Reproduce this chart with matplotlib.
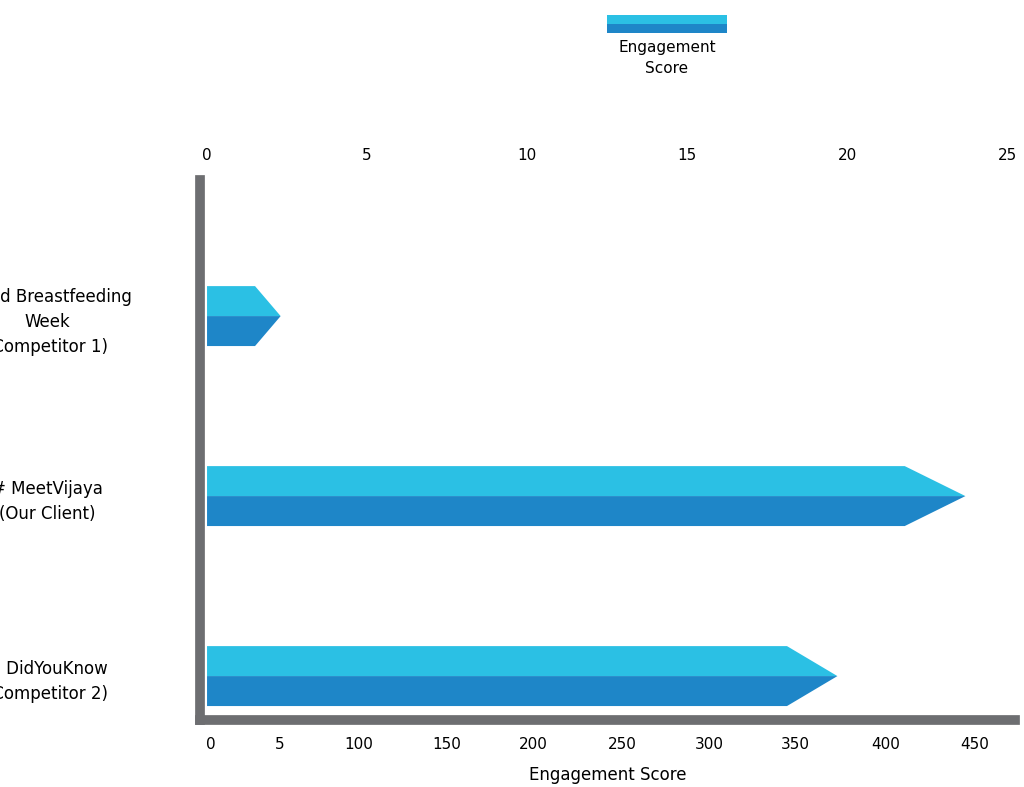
import matplotlib.pyplot as plt
from matplotlib.patches import Polygon, Rectangle

categories = ['World Breastfeeding\nWeek\n(Competitor 1)', '# MeetVijaya\n(Our Client)', '# DidYouKnow\n(Competitor 2)']
values = [2.3, 23.7, 19.7]
top_ticks = [0, 5, 10, 15, 20, 25]
bottom_labels = ['0', '5', '100', '150', '200', '250', '300', '350', '400', '450']
bottom_pos = [0.12, 2.28, 4.75, 7.5, 10.2, 12.97, 15.7, 18.4, 21.2, 24.0]

light = '#2bc0e4'
dark = '#1e86c8'
grey = '#6d6e71'

fig = plt.figure(figsize=(10.24, 7.87), dpi=100)
ax = fig.add_axes([200/1024, 1-720/787, 815/1024, 540/787])
ax.set_xlim(-0.22, 25.25)
ax.set_ylim(-0.244, 2.756)

h = 0.333  # bar height in y units
for i, v in enumerate(values):
    y = 2 - i * 1.0
    tip = max(0.8, 0.08 * v)
    body = v - tip
    top = Polygon([(0, y), (0, y + h/2), (body, y + h/2), (v, y)], closed=True, color=light, lw=0)
    bot = Polygon([(0, y), (v, y), (body, y - h/2), (0, y - h/2)], closed=True, color=dark, lw=0)
    ax.add_patch(top)
    ax.add_patch(bot)

ax.set_yticks([2, 1, 0])
ax.set_yticklabels(categories, fontsize=12, ha='center', linespacing=1.5)
ax.tick_params(axis='y', length=0, pad=110)

for s in ['top', 'right']:
    ax.spines[s].set_visible(False)
ax.spines['left'].set_linewidth(7)
ax.spines['left'].set_color(grey)
ax.spines['bottom'].set_linewidth(7)
ax.spines['bottom'].set_color(grey)

ax.set_xticks(bottom_pos)
ax.set_xticklabels(bottom_labels, fontsize=11)
ax.tick_params(axis='x', length=0, pad=12)
ax.set_xlabel('Engagement Score', fontsize=12, labelpad=10)

ax2 = ax.twiny()
ax2.set_xlim(ax.get_xlim())
ax2.set_xticks(top_ticks)
ax2.set_xticklabels([str(t) for t in top_ticks], fontsize=11)
ax2.tick_params(axis='x', length=0, pad=12)
for s in ax2.spines.values():
    s.set_visible(False)

# legend
lx, ly, lw, lh = 607/1024, 1-33/787, 120/1024, 18/787
fig.patches.append(Rectangle((lx, ly + lh/2), lw, lh/2, transform=fig.transFigure, color=light, lw=0))
fig.patches.append(Rectangle((lx, ly), lw, lh/2, transform=fig.transFigure, color=dark, lw=0))
fig.text(lx + lw/2, 1-58/787, 'Engagement\nScore', ha='center', va='center', fontsize=11, linespacing=1.5)

fig.savefig('out.png', dpi=100)
